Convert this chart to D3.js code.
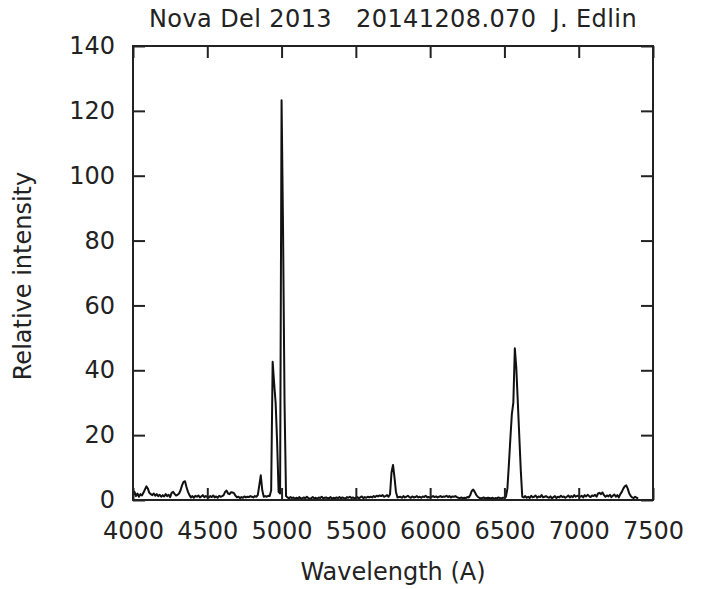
<!DOCTYPE html>
<html>
<head>
<meta charset="utf-8">
<script src="https://cdn.jsdelivr.net/npm/d3@7"></script>
<style>
  html, body { margin: 0; padding: 0; background: #fff; }
  svg { display: block; }
  text { font-family: "DejaVu Sans", Verdana, sans-serif; fill: #222; }
</style>
</head>
<body>
<svg id="chart" width="708" height="589"></svg>
<script>
// ---- data ----
const title = "Nova Del 2013\u00a0\u00a0\u00a020141208.070\u00a0\u00a0J. Edlin";
const xLabel = "Wavelength (A)";
const yLabel = "Relative intensity";
const xTicks = [4000, 4500, 5000, 5500, 6000, 6500, 7000, 7500];
const yTicks = [0, 20, 40, 60, 80, 100, 120, 140];
const xDomain = [4000, 7500];
const yDomain = [0, 140];

// spectrum sampled every 10 A from 4000 A to 7400 A
const lambdaStart = 4000;
const lambdaStep = 10;
const intensity = [
  1.5, 2.5, 1.2, 2.0, 1.0, 1.8, 1.4, 2.2, 3.2, 4.2,   // 4000
  3.5, 2.2, 1.8, 1.5, 2.0, 1.3, 1.8, 1.2, 1.6, 1.0,   // 4100
  1.5, 1.1, 1.8, 1.2, 1.6, 0.9, 2.2, 2.5, 1.9, 1.4,   // 4200
  1.6, 2.0, 3.0, 4.5, 5.6, 5.8, 4.0, 2.5, 1.5, 0.8,   // 4300
  1.2, 0.7, 1.3, 1.0, 1.4, 0.8, 1.1, 1.5, 0.9, 1.2,   // 4400
  1.0, 0.8, 1.2, 0.9, 1.4, 0.8, 1.1, 0.7, 1.3, 1.0,   // 4500
  1.2, 1.5, 2.5, 2.9, 2.0, 1.8, 2.4, 2.3, 2.1, 1.3,   // 4600
  0.8, 1.0, 0.6, 0.9, 0.7, 1.1, 0.8, 1.0, 0.9, 1.2,   // 4700
  1.0, 0.8, 1.2, 1.0, 1.5, 4.5, 7.6, 3.0, 1.0, 1.2,   // 4800
  1.0, 1.3, 1.2, 3.0, 42.6, 36.0, 30.0, 18.0, 2.5, 2.0, // 4900
  123.3, 83.0, 30.0, 1.2, 0.8, 0.5, 0.9, 0.6, 0.8, 0.4, // 5000
  0.7, 0.5, 0.9, 0.4, 0.6, 0.8, 0.5, 1.0, 0.6, 0.4,   // 5100
  0.6, 0.9, 0.5, 0.7, 0.4, 0.8, 0.6, 1.0, 0.5, 0.7,   // 5200
  0.8, 0.5, 0.6, 0.9, 0.4, 0.7, 0.5, 0.8, 0.6, 0.9,   // 5300
  0.5, 0.8, 0.6, 0.4, 0.9, 0.7, 1.0, 0.6, 0.8, 0.5,   // 5400
  0.7, 0.9, 0.5, 0.8, 1.1, 0.6, 0.9, 0.7, 1.0, 0.8,   // 5500
  1.0, 0.8, 1.2, 0.9, 1.3, 1.1, 1.4, 1.2, 1.5, 1.0,   // 5600
  1.2, 1.5, 1.0, 1.8, 8.5, 10.8, 7.0, 2.5, 0.8, 0.9,  // 5700
  1.0, 0.7, 1.2, 0.8, 1.0, 1.3, 0.9, 0.7, 1.1, 0.8,   // 5800
  0.9, 1.2, 0.8, 1.0, 0.7, 1.1, 0.9, 1.3, 0.8, 0.9,   // 5900
  0.8, 1.0, 1.2, 0.9, 1.1, 0.8, 1.0, 1.2, 0.9, 1.1,   // 6000
  1.0, 1.3, 0.9, 1.2, 0.8, 1.1, 1.0, 1.2, 0.9, 0.7,   // 6100
  0.6, 0.8, 0.5, 0.7, 0.6, 0.9, 0.8, 1.5, 2.8, 3.2,   // 6200
  2.5, 1.6, 1.0, 0.7, 0.5, 0.6, 0.8, 0.5, 0.6, 0.7,   // 6300
  0.6, 0.5, 0.7, 0.4, 0.6, 0.5, 0.8, 0.6, 0.5, 0.7,   // 6400
  0.8, 1.0, 3.5, 11.0, 19.0, 26.5, 30.0, 46.8, 40.7, 30.2, // 6500
  19.7, 9.2, 1.0, 0.8, 1.2, 0.7, 1.0, 0.6, 1.3, 0.8,  // 6600
  1.0, 1.4, 0.7, 1.1, 0.9, 1.5, 0.8, 1.0, 1.2, 0.9,   // 6700
  0.7, 1.1, 0.5, 0.9, 1.2, 0.6, 1.0, 0.8, 1.3, 0.9,   // 6800
  1.1, 0.7, 1.0, 1.4, 0.8, 1.2, 0.9, 1.5, 1.0, 1.3,   // 6900
  1.2, 1.0, 1.3, 0.8, 1.5, 1.1, 1.6, 1.2, 0.9, 1.4,   // 7000
  1.2, 1.6, 1.0, 2.0, 2.2, 1.8, 2.3, 1.5, 1.0, 1.4,   // 7100
  1.1, 1.6, 0.9, 1.3, 1.7, 1.0, 1.5, 0.8, 1.8, 2.5,   // 7200
  3.5, 4.2, 4.5, 3.5, 2.0, 1.2, 0.8, 0.6, 1.0, 0.7,   // 7300
  0.5                                                // 7400
];

// ---- layout ----
const svg = d3.select("#chart");
const mLeft = 133, mRight = 653, mTop = 46, mBottom = 500;
const x = d3.scaleLinear().domain(xDomain).range([mLeft, mRight]);
const y = d3.scaleLinear().domain(yDomain).range([mBottom, mTop]);
const fontSize = 24;
const tickLen = 12;

// spectrum
const points = intensity.map((v, i) => [lambdaStart + i * lambdaStep, v]);
svg.append("path")
  .datum(points)
  .attr("fill", "none")
  .attr("stroke", "#111")
  .attr("stroke-width", 2)
  .attr("stroke-linejoin", "round")
  .attr("d", d3.line().x(d => x(d[0])).y(d => y(d[1])));

// axes with inward ticks
function styleAxis(g) {
  g.select(".domain").remove();
  g.selectAll(".tick line").attr("stroke", "#222").attr("stroke-width", 2);
  g.selectAll("text").style("font-size", fontSize + "px").attr("fill", "#222");
}
svg.append("g").attr("transform", `translate(0,${mBottom})`)
  .call(d3.axisBottom(x).tickValues(xTicks).tickSize(-tickLen).tickPadding(22).tickFormat(d3.format("d")))
  .call(styleAxis)
  .call(g => g.selectAll("text").attr("dy", "0.71em"));
svg.append("g").attr("transform", `translate(0,${mTop})`)
  .call(d3.axisTop(x).tickValues(xTicks).tickSize(-tickLen).tickFormat(""))
  .call(styleAxis);
svg.append("g").attr("transform", `translate(${mLeft},0)`)
  .call(d3.axisLeft(y).tickValues(yTicks).tickSize(-tickLen).tickPadding(18).tickFormat(d3.format("d")))
  .call(styleAxis);
svg.append("g").attr("transform", `translate(${mRight},0)`)
  .call(d3.axisRight(y).tickValues(yTicks).tickSize(-tickLen).tickFormat(""))
  .call(styleAxis);

// frame
svg.append("rect")
  .attr("x", mLeft).attr("y", mTop)
  .attr("width", mRight - mLeft).attr("height", mBottom - mTop)
  .attr("fill", "none").attr("stroke", "#222").attr("stroke-width", 2);

// title and labels
svg.append("text")
  .attr("x", 393).attr("y", 27)
  .attr("text-anchor", "middle")
  .style("font-size", fontSize + "px")
  .style("letter-spacing", "0.4px")
  .text(title);
svg.append("text")
  .attr("x", 393).attr("y", 580)
  .attr("text-anchor", "middle")
  .style("font-size", fontSize + "px")
  .text(xLabel);
svg.append("text")
  .attr("transform", "translate(31,276) rotate(-90)")
  .attr("text-anchor", "middle")
  .style("font-size", fontSize + "px")
  .text(yLabel);
</script>
</body>
</html>
